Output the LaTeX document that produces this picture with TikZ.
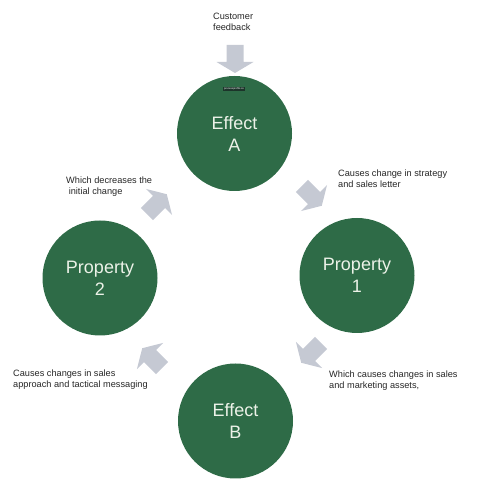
\documentclass[tikz,border=0pt]{standalone}
\usepackage{fontspec}
\setmainfont{Liberation Sans}
\definecolor{circlegreen}{RGB}{46,107,71}
\definecolor{arrowgray}{RGB}{197,201,211}
\definecolor{tagdark}{RGB}{28,52,42}
\definecolor{textlight}{RGB}{236,242,232}
\tikzset{
  bubble/.style={circle, fill=circlegreen, minimum size=115pt, inner sep=0pt, text=textlight, align=center, font=\fontsize{18}{22}\selectfont},
  note/.style={anchor=north west, inner sep=0pt, align=left, font=\fontsize{9.2}{11}\selectfont, text=black!85},
}
\newcommand{\blockarrow}[2]{%
  \fill[arrowgray, shift={#1}, rotate=#2] (-17,-8.5) -- (0,-8.5) -- (0,-18.5) -- (11,0) -- (0,18.5) -- (0,8.5) -- (-17,8.5) -- cycle;}

\begin{document}
\begin{tikzpicture}[x=1pt, y=1pt]
				\useasboundingbox (0,0) rectangle (478,504);

				\node[bubble] (effA) at (234.5, 370.5) {Effect\\A};
				\node[bubble] (prop1) at (357, 228.5) {Property\\1};
				\node[bubble] (prop2) at (100, 226) {Property\\2};
				\node[bubble] (effB) at (235.5, 83) {Effect\\B};

				\node[fill=tagdark, text=white, inner xsep=1.5pt, inner ysep=1pt, font=\fontsize{2.6}{3}\selectfont] (tag) at (234, 415) {processprofits.co};

				\blockarrow{(235,442)}{-90}
				\blockarrow{(314,306)}{-45}
				\blockarrow{(309,149)}{-135}
				\blockarrow{(150,148)}{135}
				\blockarrow{(159,302)}{45}

				\node[note] (feedback) at (213, 491) {Customer\\feedback};
				\node[note] (strategy) at (338, 334) {Causes change in strategy\\and sales letter};
				\node[note] (decrease) at (66, 327) {Which decreases the\\\ initial change};
				\node[note] (approach) at (13, 134) {Causes changes in sales\\approach and tactical messaging};
				\node[note] (assets) at (329, 133) {Which causes changes in sales\\and marketing assets,};
			\end{tikzpicture}
\end{document}
